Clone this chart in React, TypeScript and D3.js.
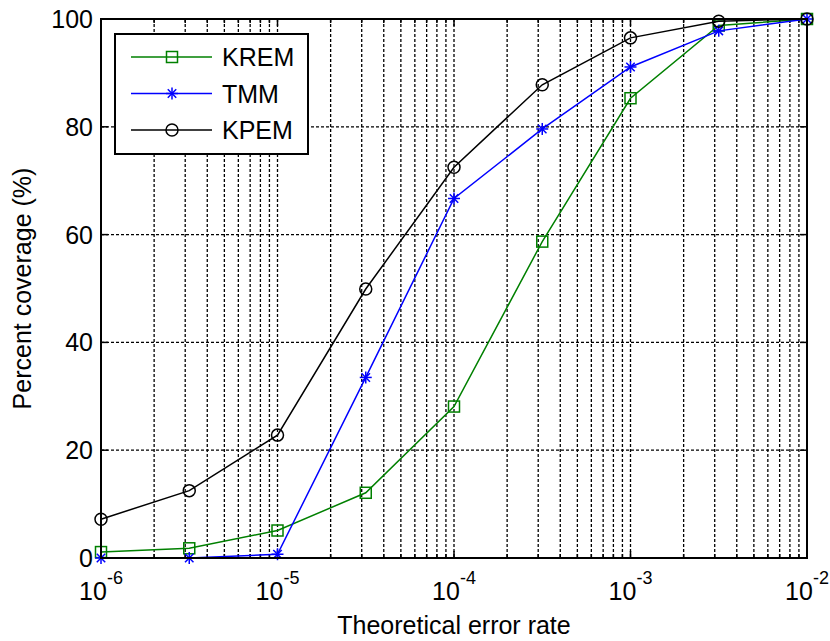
import React from "react";
import * as d3 from "d3";

const xValues = [1e-6, 3.1623e-6, 1e-5, 3.1623e-5, 1e-4, 3.1623e-4, 1e-3, 3.1623e-3, 1e-2];
const kremValues = [1.1, 1.8, 5.1, 12.1, 28.1, 58.7, 85.3, 98.8, 100];
const tmmValues = [0, 0, 0.7, 33.5, 66.7, 79.6, 91.1, 97.8, 100];
const kpemValues = [7.2, 12.5, 22.8, 49.9, 72.5, 87.8, 96.5, 99.6, 100];
const seriesNames = ["KREM", "TMM", "KPEM"];
const xTickExps = [-6, -5, -4, -3, -2];
const yTicks = [0, 20, 40, 60, 80, 100];

const W = 830, H = 641;
const L = 101, R = 807, T = 19, B = 558;
const FONT = "Arial, 'Liberation Sans', Helvetica, sans-serif";
const FS = 25;

function Marker({ kind, x, y, color }: { kind: string; x: number; y: number; color: string }) {
  if (kind === "square") {
    return <rect x={x - 5.5} y={y - 5.5} width={11} height={11} fill="none" stroke={color} strokeWidth={1.5} />;
  }
  if (kind === "circle") {
    return <circle cx={x} cy={y} r={6} fill="none" stroke={color} strokeWidth={1.5} />;
  }
  const r = 6;
  const d = r * 0.707;
  return (
    <g stroke={color} strokeWidth={1.5}>
      <line x1={x} y1={y - r} x2={x} y2={y + r} />
      <line x1={x - d} y1={y - d} x2={x + d} y2={y + d} />
      <line x1={x - d} y1={y + d} x2={x + d} y2={y - d} />
      <line x1={x - r} y1={y} x2={x + r} y2={y} />
    </g>
  );
}

export default function App() {
  const x = d3.scaleLog().domain([1e-6, 1e-2]).range([L, R]);
  const y = d3.scaleLinear().domain([0, 100]).range([B, T]);
  const line = d3.line<number>().x((_, i) => x(xValues[i])).y((v) => y(v));

  const minorTicks: number[] = [];
  for (let e = -6; e < -2; e++) {
    for (let m = 2; m <= 9; m++) {
      minorTicks.push(m * Math.pow(10, e));
    }
  }
  const majorTicks = xTickExps.map((e) => Math.pow(10, e));

  const series = [
    { name: seriesNames[0], values: kremValues, color: "#008000", marker: "square" },
    { name: seriesNames[1], values: tmmValues, color: "#0000ff", marker: "star" },
    { name: seriesNames[2], values: kpemValues, color: "#000000", marker: "circle" },
  ];

  const dash = "3,2";

  return (
    <svg width={W} height={H} style={{ position: "absolute", left: 0, top: 0, background: "#fff" }} fontFamily={FONT}>
      <rect x={0} y={0} width={W} height={H} fill="#fff" />
      {/* grid */}
      <g stroke="#000" strokeWidth={1.3} strokeDasharray={dash}>
        {[...minorTicks, ...majorTicks.slice(1, -1)].map((v, i) => (
          <line key={"gx" + i} x1={x(v)} x2={x(v)} y1={T} y2={B} />
        ))}
        {yTicks.slice(1, -1).map((v, i) => (
          <line key={"gy" + i} x1={L} x2={R} y1={y(v)} y2={y(v)} />
        ))}
      </g>
      {/* ticks */}
      <g stroke="#000" strokeWidth={1.5}>
        {majorTicks.map((v, i) => (
          <g key={"tx" + i}>
            <line x1={x(v)} x2={x(v)} y1={B} y2={B - 7} />
            <line x1={x(v)} x2={x(v)} y1={T} y2={T + 7} />
          </g>
        ))}
        {minorTicks.map((v, i) => (
          <g key={"mx" + i}>
            <line x1={x(v)} x2={x(v)} y1={B} y2={B - 4} />
            <line x1={x(v)} x2={x(v)} y1={T} y2={T + 4} />
          </g>
        ))}
        {yTicks.map((v, i) => (
          <g key={"ty" + i}>
            <line x1={L} x2={L + 7} y1={y(v)} y2={y(v)} />
            <line x1={R} x2={R - 7} y1={y(v)} y2={y(v)} />
          </g>
        ))}
      </g>
      {/* series */}
      {series.map((s) => (
        <g key={s.name}>
          <path d={line(s.values) || ""} fill="none" stroke={s.color} strokeWidth={1.5} />
          {s.values.map((v, i) => (
            <Marker key={i} kind={s.marker} x={x(xValues[i])} y={y(v)} color={s.color} />
          ))}
        </g>
      ))}
      {/* axes box */}
      <rect x={L} y={T} width={R - L} height={B - T} fill="none" stroke="#000" strokeWidth={2} />
      {/* y tick labels */}
      {yTicks.map((v) => (
        <text key={"yl" + v} x={93} y={y(v)} dy="0.36em" textAnchor="end" fontSize={FS} fill="#000">
          {v}
        </text>
      ))}
      {/* x tick labels */}
      {xTickExps.map((e) => (
        <text key={"xl" + e} x={x(Math.pow(10, e))} y={600} textAnchor="middle" fontSize={FS} fill="#000">
          10
          <tspan dy={-16} fontSize={18}>{String(e)}</tspan>
        </text>
      ))}
      {/* axis titles */}
      <text x={(L + R) / 2} y={634} textAnchor="middle" fontSize={FS} fill="#000">
        Theoretical error rate
      </text>
      <text transform={`translate(31,${(T + B) / 2}) rotate(-90)`} textAnchor="middle" fontSize={FS} fill="#000">
        Percent coverage (%)
      </text>
      {/* legend */}
      <rect x={115} y={34} width={193} height={120} fill="#fff" stroke="#000" strokeWidth={2} />
      {series.map((s, i) => {
        const ly = 57 + i * 36.5;
        return (
          <g key={"lg" + s.name}>
            <line x1={131} x2={212} y1={ly} y2={ly} stroke={s.color} strokeWidth={1.5} />
            <Marker kind={s.marker} x={172} y={ly} color={s.color} />
            <text x={222} y={ly} dy="0.36em" fontSize={FS} fill="#000">
              {s.name}
            </text>
          </g>
        );
      })}
    </svg>
  );
}
